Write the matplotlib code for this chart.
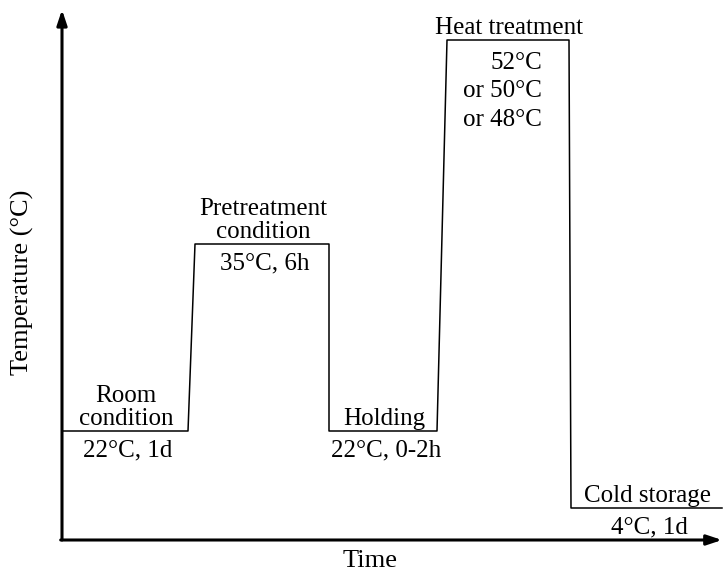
import matplotlib.pyplot as plt

plt.rcParams['font.family'] = ['Liberation Serif', 'DejaVu Serif']

# schematic phases (x = time position, y = schematic level)
phase_names = ["Room\ncondition", "Pretreatment\ncondition", "Holding",
               "Heat treatment", "Cold storage"]
phase_conditions = ["22°C, 1d", "35°C, 6h", "22°C, 0-2h",
                    "52°C\nor 50°C\nor 48°C", "4°C, 1d"]
phase_start = [0, 133, 267, 385, 509]
phase_end = [126, 267, 375, 507, 660]
phase_level = [109, 296, 109, 500, 32]

fig = plt.figure(figsize=(7.24, 5.71), dpi=100)
ax = fig.add_axes([62 / 724, 31 / 571, 660 / 724, 525 / 571])
ax.set_xlim(0, 660)
ax.set_ylim(0, 525)
ax.axis('off')

# temperature profile
xs, ys = [], []
for s, e, lv in zip(phase_start, phase_end, phase_level):
    xs += [s, e]
    ys += [lv, lv]
ax.plot(xs, ys, color='black', lw=1.1, clip_on=False)

# axes with arrows
arrow = dict(arrowstyle='-|>,head_length=0.9,head_width=0.3', lw=2.2,
             color='black', shrinkA=0, shrinkB=0)
ax.annotate('', xy=(0, 1.01), xytext=(0, 0), xycoords='axes fraction',
            arrowprops=arrow)
ax.annotate('', xy=(1.0, 0), xytext=(-0.002, 0), xycoords='axes fraction',
            arrowprops=arrow)

fs = 18
for name, cond, s, e, lv in zip(phase_names, phase_conditions,
                                phase_start, phase_end, phase_level):
    cx = (s + e) / 2
    ax.text(cx + 1, lv + 1, name, ha='center', va='bottom', fontsize=fs,
            linespacing=1.05)
    if '\n' in cond:
        # stacked options, right aligned inside the plateau
        ax.text(e - 27, lv - 12, cond, ha='right', va='top', fontsize=fs,
                linespacing=1.38, multialignment='right')
    else:
        ax.text(cx + 3, lv - 8, cond, ha='center', va='top', fontsize=fs)

fig.text(22 / 724, 1 - 282 / 571, "Temperature (°C)", rotation=90,
         ha='center', va='center', fontsize=19)
fig.text(370 / 724, 1 - 561 / 571, "Time", ha='center', va='center',
         fontsize=19)

fig.savefig('out.png', dpi=100)
